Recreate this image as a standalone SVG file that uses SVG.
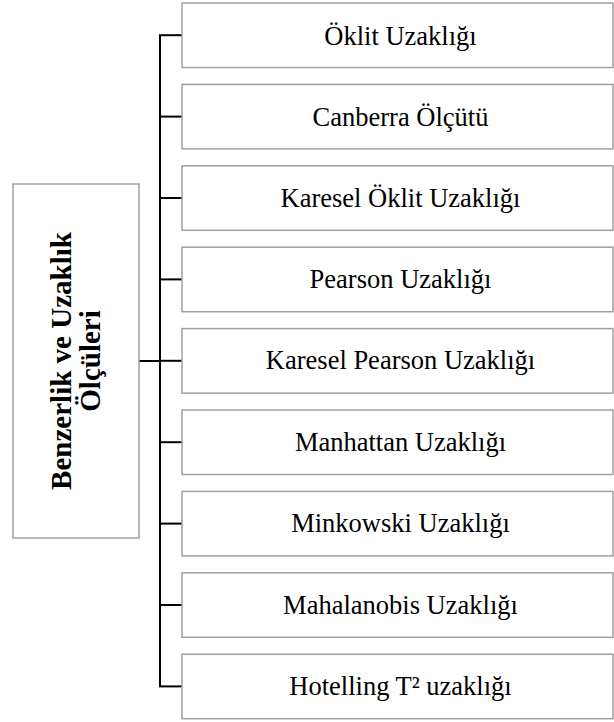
<svg xmlns="http://www.w3.org/2000/svg" width="614" height="722" viewBox="0 0 614 722">
  <style>
    .box { fill: #ffffff; stroke: #a0a0a0; stroke-width: 1.5; }
    .lbl { font-family: "Liberation Serif", "Times New Roman", serif; font-size: 26.5px; fill: #000; text-anchor: middle; }
    .root { font-family: "Liberation Serif", "Times New Roman", serif; font-size: 29px; font-weight: bold; fill: #000; text-anchor: middle; }
    .wire { fill: none; stroke: #000; stroke-width: 2; }
  </style>

  <!-- connectors: trunk, root link and one tick per item -->
  <g id="connectors">
    <line class="wire" x1="139" y1="361" x2="160" y2="361"/>
    <line class="wire" x1="160" y1="35.2" x2="160" y2="686.5"/>
    <line class="wire" x1="159" y1="35.2" x2="182" y2="35.2"/>
    <line class="wire" x1="160" y1="116.6" x2="182" y2="116.6"/>
    <line class="wire" x1="160" y1="198" x2="182" y2="198"/>
    <line class="wire" x1="160" y1="279.4" x2="182" y2="279.4"/>
    <line class="wire" x1="160" y1="360.8" x2="182" y2="360.8"/>
    <line class="wire" x1="160" y1="442.2" x2="182" y2="442.2"/>
    <line class="wire" x1="160" y1="523.6" x2="182" y2="523.6"/>
    <line class="wire" x1="160" y1="605" x2="182" y2="605"/>
    <line class="wire" x1="159" y1="686.4" x2="182" y2="686.4"/>
  </g>

  <g id="root">
    <rect class="box" x="13" y="184" width="126" height="354"/>
    <text class="root" transform="translate(71 361) rotate(-90)">Benzerlik ve Uzaklık</text>
    <text class="root" transform="translate(100 361) rotate(-90)">Ölçüleri</text>
  </g>

  <g id="n1">
    <rect class="box" x="182" y="3" width="431" height="64.5"/>
    <text class="lbl" x="400.5" y="44.5">Öklit Uzaklığı</text>
  </g>
  <g id="n2">
    <rect class="box" x="182" y="84.4" width="431" height="64.5"/>
    <text class="lbl" x="400.5" y="125.6">Canberra Ölçütü</text>
  </g>
  <g id="n3">
    <rect class="box" x="182" y="165.8" width="431" height="64.5"/>
    <text class="lbl" x="400.5" y="206.8">Karesel Öklit Uzaklığı</text>
  </g>
  <g id="n4">
    <rect class="box" x="182" y="247.2" width="431" height="64.5"/>
    <text class="lbl" x="400.5" y="288.2">Pearson Uzaklığı</text>
  </g>
  <g id="n5">
    <rect class="box" x="182" y="328.6" width="431" height="64.5"/>
    <text class="lbl" x="400.5" y="369.4">Karesel Pearson Uzaklığı</text>
  </g>
  <g id="n6">
    <rect class="box" x="182" y="410" width="431" height="64.5"/>
    <text class="lbl" x="400.5" y="450.8">Manhattan Uzaklığı</text>
  </g>
  <g id="n7">
    <rect class="box" x="182" y="491.4" width="431" height="64.5"/>
    <text class="lbl" x="400.5" y="532.2">Minkowski Uzaklığı</text>
  </g>
  <g id="n8">
    <rect class="box" x="182" y="572.8" width="431" height="64.5"/>
    <text class="lbl" x="400.5" y="613.6">Mahalanobis Uzaklığı</text>
  </g>
  <g id="n9">
    <rect class="box" x="182" y="654.2" width="431" height="64.5"/>
    <text class="lbl" x="400.5" y="694.6">Hotelling T² uzaklığı</text>
  </g>
</svg>
